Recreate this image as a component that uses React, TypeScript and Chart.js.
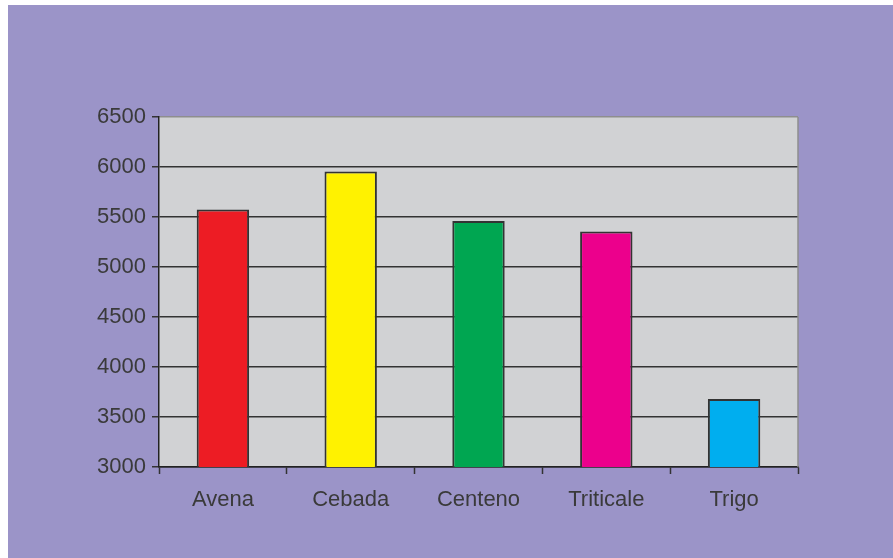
import React, { useEffect, useRef } from "react";
import { Chart, registerables } from "chart.js";

Chart.register(...registerables);

const categories = ["Avena", "Cebada", "Centeno", "Triticale", "Trigo"];
const values = [5575, 5955, 5460, 5355, 3680];
const barColors = ["#ED1C24", "#FFF200", "#00A651", "#EC008C", "#00AEEF"];
const yMin = 3000;
const yMax = 6500;
const yStep = 500;

const plotFrame = {
  id: "plotFrame",
  beforeDraw(chart: any) {
    const { ctx, chartArea } = chart;
    if (!chartArea) return;
    ctx.save();
    ctx.fillStyle = "#D1D2D4";
    ctx.fillRect(chartArea.left, chartArea.top, chartArea.right - chartArea.left, chartArea.bottom - chartArea.top);
    ctx.restore();
  },
  beforeDatasetsDraw(chart: any) {
    const { ctx, chartArea } = chart;
    ctx.save();
    ctx.strokeStyle = "#8E8E8E";
    ctx.lineWidth = 1.5;
    ctx.beginPath();
    ctx.moveTo(chartArea.right, chartArea.top);
    ctx.lineTo(chartArea.right, chartArea.bottom);
    ctx.stroke();
    ctx.restore();
  },
};

export default function App() {
  const ref = useRef<HTMLCanvasElement | null>(null);

  useEffect(() => {
    if (!ref.current) return;
    const font = { family: "'Liberation Sans', Arial, sans-serif", size: 22 };
    const chart = new Chart(ref.current, {
      type: "bar",
      data: {
        labels: categories,
        datasets: [
          {
            data: values,
            backgroundColor: barColors,
            borderColor: "#333333",
            borderWidth: 2,
            barPercentage: 0.41,
            categoryPercentage: 1,
          },
        ],
      },
      options: {
        responsive: false,
        animation: false,
        layout: { padding: { top: 112, right: 95, bottom: 0, left: 0 } },
        plugins: { legend: { display: false }, tooltip: { enabled: false } },
        scales: {
          x: {
            afterFit(scale: any) {
              scale.height = 91;
            },
            grid: {
              display: true,
              drawOnChartArea: false,
              drawTicks: true,
              tickLength: 7,
              tickColor: "#333333",
              tickWidth: 1.5,
              offset: true,
            },
            border: { display: true, color: "#222222", width: 1.5 },
            ticks: { color: "#3a3a3a", font, padding: 13 },
          },
          y: {
            min: yMin,
            max: yMax,
            afterFit(scale: any) {
              scale.width = 151;
            },
            ticks: {
              stepSize: yStep,
              color: "#3a3a3a",
              font,
              padding: 6,
              callback: (v: any) => String(v),
            },
            grid: {
              color: (c: any) => (c.tick && c.tick.value === yMax ? "#8E8E8E" : "#333333"),
              lineWidth: 1.5,
              drawTicks: true,
              tickLength: 7,
              tickColor: "#333333",
              tickWidth: 1.5,
            },
            border: { display: true, color: "#222222", width: 1.5 },
          },
        },
      },
      plugins: [plotFrame],
    });
    return () => chart.destroy();
  }, []);

  return (
    <div
      style={{
        position: "fixed",
        left: 8,
        top: 5,
        width: 885,
        height: 553,
        background: "#9B94C8",
      }}
    >
      <canvas ref={ref} width={885} height={553} style={{ display: "block" }} />
    </div>
  );
}
